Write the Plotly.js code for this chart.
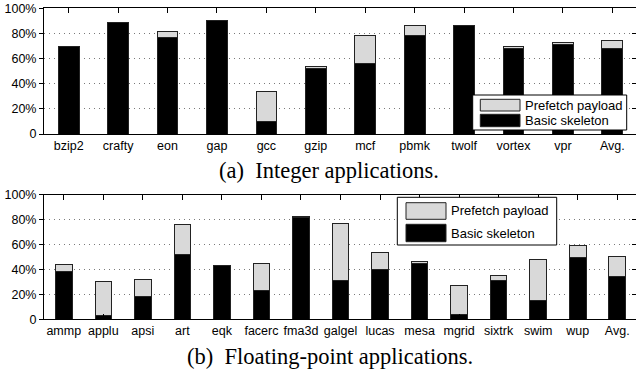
<!DOCTYPE html>
<html><head><meta charset="utf-8">
<script src="https://cdn.plot.ly/plotly-3.0.1.min.js"></script>
<style>html,body{margin:0;padding:0;overflow:hidden;background:#fff}#chart{width:637px;height:370px}</style>
</head><body><div id="chart"></div>
<script>
// ---- data ----
const intCategories = ['bzip2','crafty','eon','gap','gcc','gzip','mcf','pbmk','twolf','vortex','vpr','Avg.'];
const intBasic      = [69.5, 89, 77, 90, 10, 52, 56, 78, 86, 68, 71, 68];
const intPayload    = [0.5, 0, 4.5, 0.5, 24, 2, 22, 8, 0, 2, 1.5, 6];

const fpCategories = ['ammp','applu','apsi','art','eqk','facerc','fma3d','galgel','lucas','mesa','mgrid','sixtrk','swim','wup','Avg.'];
const fpBasic      = [38, 3, 18, 52, 43, 23, 81.5, 31, 40, 45, 4, 31, 15, 49.5, 34];
const fpPayload    = [6, 27, 14, 24, 0.5, 22, 1, 46, 14, 1, 23, 4, 33, 9.5, 16];

const seriesNames = ['Basic skeleton', 'Prefetch payload'];
const yTickVals = [0, 20, 40, 60, 80, 100];
const yTickText = ['0', '20%', '40%', '60%', '80%', '100%'];
const captions = ['(a)  Integer applications.', '(b)  Floating-point applications.'];

// ---- styling ----
const W = 637, H = 370;
const px = x => x / W;
const py = y => 1 - y / H;
const barLine = {color: '#222', width: 1};
const colBasic = '#000000', colPayload = '#d9d9d9';
const sans = 'Liberation Sans, Arial, sans-serif';
const serif = 'Liberation Serif, Times New Roman, serif';

function makeTraces(cats, basic, payload, xa, ya) {
  return [
    {type: 'bar', x: cats, y: basic, name: seriesNames[0], xaxis: xa, yaxis: ya,
     marker: {color: colBasic, line: barLine}, showlegend: false, hoverinfo: 'skip'},
    {type: 'bar', x: cats, y: payload, name: seriesNames[1], xaxis: xa, yaxis: ya,
     marker: {color: colPayload, line: barLine}, showlegend: false, hoverinfo: 'skip'}
  ];
}

const data = [].concat(
  makeTraces(intCategories, intBasic, intPayload, 'x', 'y'),
  makeTraces(fpCategories, fpBasic, fpPayload, 'x2', 'y2'),
  [{type: 'scatter', x: [], y: [], xaxis: 'x', yaxis: 'y3', showlegend: false, hoverinfo: 'skip'},
   {type: 'scatter', x: [], y: [], xaxis: 'x2', yaxis: 'y4', showlegend: false, hoverinfo: 'skip'}]
);

function xAxis(n, anchor) {
  return {domain: [px(44), 1], anchor: anchor, type: 'category', range: [-0.5, n - 0.5],
    ticks: 'inside', ticklen: 5, tickcolor: '#000', tickwidth: 1,
    showline: true, linecolor: '#000', linewidth: 1, mirror: 'ticks',
    showgrid: false, zeroline: false, fixedrange: true,
    tickfont: {family: sans, size: 12.5, color: '#000'}};
}
function yAxis(top, bottom, anchor) {
  return {domain: [py(bottom), py(top)], anchor: anchor, range: [0, 100],
    tickmode: 'array', tickvals: yTickVals, ticktext: yTickText,
    ticks: 'outside', ticklen: 4, tickcolor: '#000',
    showline: true, linecolor: '#000', linewidth: 1, mirror: true,
    showgrid: true, gridcolor: '#7a7a7a', gridwidth: 1, griddash: '1px,4px',
    zeroline: false, fixedrange: true,
    tickfont: {family: sans, size: 12.5, color: '#000'}};
}
function rightAxis(over, anchor) {
  return {overlaying: over, side: 'right', anchor: anchor, range: [0, 100],
    tickmode: 'array', tickvals: yTickVals, ticks: 'inside', ticklen: 5, tickcolor: '#000',
    showticklabels: false, showgrid: false, zeroline: false, showline: false, fixedrange: true};
}

// legend drawn as boxes + labels
function legendParts(box, sw, textX, rows) {
  const shapes = [
    {type: 'rect', xref: 'paper', yref: 'paper', x0: px(box[0]), x1: px(box[1]), y0: py(box[3]), y1: py(box[2]),
     fillcolor: '#fff', line: {color: '#000', width: 1}, layer: 'above'}
  ];
  const ann = [];
  const fills = [colPayload, colBasic];
  const names = [seriesNames[1], seriesNames[0]];
  rows.forEach((r, i) => {
    shapes.push({type: 'rect', xref: 'paper', yref: 'paper', x0: px(sw[0]), x1: px(sw[1]), y0: py(r[1]), y1: py(r[0]),
      fillcolor: fills[i], line: {color: '#222', width: 1}, layer: 'above'});
    ann.push({xref: 'paper', yref: 'paper', x: px(textX), y: py((r[0] + r[1]) / 2), xanchor: 'left', yanchor: 'middle',
      text: names[i], showarrow: false, font: {family: sans, size: 13, color: '#000'}});
  });
  return {shapes, ann};
}
const lg1 = legendParts([472.7, 626.7, 95, 130], [480.3, 520], 522.5, [[99.3, 111], [114.3, 126.7]]);
const lg2 = legendParts([397.3, 556.7, 197.3, 245], [406, 446], 448.5, [[202.7, 219.3], [224.3, 241.7]]);

const layout = {
  width: W, height: H, margin: {l: 0, r: 0, t: 0, b: 0},
  paper_bgcolor: '#fff', plot_bgcolor: '#fff',
  barmode: 'stack', bargap: 0.58, showlegend: false,
  xaxis: xAxis(intCategories.length, 'y'),
  yaxis: yAxis(8.3, 134, 'x'),
  xaxis2: xAxis(fpCategories.length, 'y2'),
  yaxis2: yAxis(194.7, 319.3, 'x2'),
  yaxis3: rightAxis('y', 'x'),
  yaxis4: rightAxis('y2', 'x2'),
  shapes: lg1.shapes.concat(lg2.shapes),
  annotations: lg1.ann.concat(lg2.ann).concat([
    {xref: 'paper', yref: 'paper', x: px(329), y: py(170), xanchor: 'center', yanchor: 'middle',
     text: captions[0], showarrow: false, font: {family: serif, size: 22.5, color: '#000'}},
    {xref: 'paper', yref: 'paper', x: px(330), y: py(356), xanchor: 'center', yanchor: 'middle',
     text: captions[1], showarrow: false, font: {family: serif, size: 22.5, color: '#000'}}
  ])
};

Plotly.newPlot('chart', data, layout, {displayModeBar: false, staticPlot: true});
</script></body></html>
